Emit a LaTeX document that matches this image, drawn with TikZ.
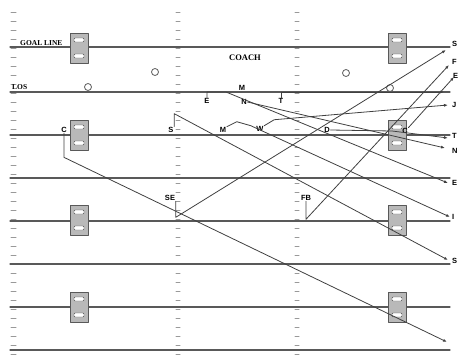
\documentclass[tikz,border=0pt]{standalone}
\usepackage{fontspec}
\setmainfont{Liberation Serif}
\setsansfont{Liberation Sans}
\usetikzlibrary{arrows.meta}

\begin{document}
\begin{tikzpicture}[x=1pt, y=-1pt, >={Latex[length=4pt,width=3pt]}, line join=round, line cap=round,
    yardline/.style={gray!70!black, line width=1.3pt},
    hashmark/.style={gray!80, line width=1pt},
    route/.style={black!75, line width=0.8pt},
    fieldtext/.style={font=\rmfamily\bfseries\fontsize{7.5}{8}\selectfont, inner sep=0pt},
    player/.style={font=\sffamily\bfseries\fontsize{7.5}{8}\selectfont, inner sep=0.5pt},
    sidelabel/.style={font=\sffamily\bfseries\fontsize{7.5}{8}\selectfont, inner sep=0pt, anchor=west},
    marker/.style={draw=gray!70!black, fill=gray!55, line width=0.6pt},
    slot/.style={draw=gray!60!black, fill=white, rounded corners=1pt, line width=0.4pt},
    spot/.style={draw=gray!70!black, circle, minimum size=7pt, inner sep=0pt, line width=0.8pt}]
  \useasboundingbox (0,0) rectangle (459,362);
  % hash marks
  \foreach \y in {12,21,...,356} {
    \draw[hashmark] (11,\y) -- (16,\y);
    \draw[hashmark] (176,\y) -- (180,\y);
    \draw[hashmark] (295,\y) -- (299,\y);
  }
  % yard lines
  \foreach \y in {47,92,135,178,221,264,307,350}
    \draw[yardline] (10,\y) -- (450,\y);
  % markers
  \foreach \x in {79,397} \foreach \y in {48,135,220,307} {
    \draw[marker] (\x-9,\y-15) rectangle (\x+9,\y+15);
    \draw[slot] (\x-5,\y-10) rectangle (\x+5,\y-6);
    \draw[slot] (\x-5,\y+6) rectangle (\x+5,\y+10);
  }
  % field texts
  \node[fieldtext, anchor=base west] (goal) at (20,45) {GOAL LINE};
  \node[fieldtext, anchor=base west] (los) at (12,89) {LOS};
  \node[fieldtext, font=\rmfamily\bfseries\fontsize{8.5}{9}\selectfont] (coach) at (245,58) {COACH};
  \node[spot] (o1) at (155,72) {};
  \node[spot] (o2) at (88,87) {};
  \node[spot] (o3) at (346,73) {};
  \node[spot] (o4) at (390,88) {};
  % players
  \node[player] (c) at (64,130) {C};
  \node[player] (s) at (171,130) {S};
  \node[player] (m) at (223,130) {M};
  \node[player] (w) at (260,129) {W};
  \node[player] (d) at (327,130) {D};
  \node[player] (cr) at (405,131) {C};
  \node[player] (e) at (207,101) {E};
  \node[player] (mt) at (242,88) {M};
  \node[player] (n) at (244,102) {N};
  \node[player] (t) at (281,101) {T};
  \node[player] (se) at (170,198) {SE};
  \node[player] (fb) at (306,198) {FB};
  % route ends
  \coordinate (r1) at (446,50);
  \coordinate (r2) at (449,65);
  \coordinate (r3) at (454,77);
  \coordinate (r4) at (444,92);
  \coordinate (r5) at (448,105);
  \coordinate (r6) at (448,138);
  \coordinate (r7) at (445,148);
  \coordinate (r8) at (448,183);
  \coordinate (r9) at (450,217);
  \coordinate (r10) at (448,260);
  \coordinate (r11) at (447,342);
  % routes
  \draw[route,->] (se.south east) -- ++(0,16) -- (r1);
  \draw[route,->] (fb.south) -- ++(0,18) -- (r2);
  \draw[route,->] (cr.north east) -- (r3);
  \draw[route,->] (t.north) |- (r4);
  \draw[route,->] (w.north east) -- ++(10,-6) -- (r5);
  \draw[route,->] (d.east) -- (392,131) -- (r6);
  \draw[route,->] (n.east) -- (r7);
  \draw[route,->] (e.north) |- (226,92) -- (r8);
  \draw[route,->] (m.north east) -- ++(10,-5) -- ++(14,4) -- (r9);
  \draw[route,->] (s.north east) -- ++(0,-13) -- (r10);
  \draw[route,->] (c.south) -- ++(0,24) -- (r11);
  % side labels
  \node[sidelabel] (l1) at (452,44) {S};
  \node[sidelabel] (l2) at (452,62) {F};
  \node[sidelabel] (l3) at (453,76) {E};
  \node[sidelabel] (l5) at (452,105) {J};
  \node[sidelabel] (l6) at (452,136) {T};
  \node[sidelabel] (l7) at (452,151) {N};
  \node[sidelabel] (l8) at (452,183) {E};
  \node[sidelabel] (l9) at (452,217) {I};
  \node[sidelabel] (l10) at (452,261) {S};
\end{tikzpicture}
\end{document}
